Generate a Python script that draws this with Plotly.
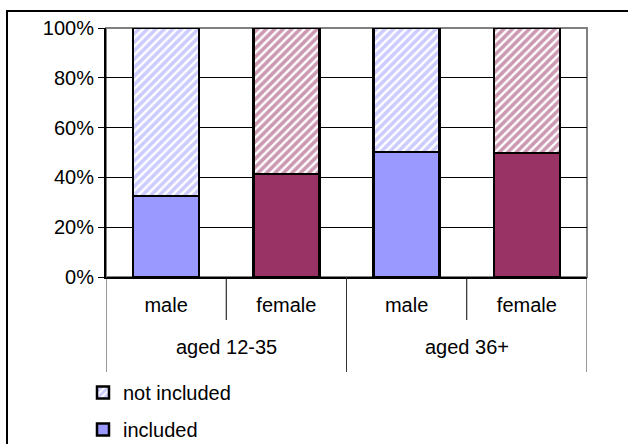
import plotly.graph_objects as go

age_groups = ["aged 12-35", "aged 36+"]
group_members = [[0, 1], [2, 3]]
sexes = ["male", "female", "male", "female"]
included = [32.6, 41.3, 50.3, 49.9]
not_included = [67.4, 58.7, 49.7, 50.1]
bar_colors = ["#9999FF", "#993366", "#9999FF", "#993366"]
y_ticks = [0, 20, 40, 60, 80, 100]
y_tick_text = ["0%", "20%", "40%", "60%", "80%", "100%"]

W, H = 628, 444
L, R, T, B = 106, 41, 28, 167
pw, ph = W - L - R, H - T - B

def px_x(p):
    return (p - L) / pw

def px_y(p):
    return (H - B - p) / ph

FONT = "Liberation Sans, Arial, sans-serif"
xpos = list(range(len(sexes)))

fig = go.Figure()
fig.add_trace(go.Bar(
    x=xpos, y=included, name="included",
    marker=dict(color=bar_colors, line=dict(color="black", width=2.5)),
    legend="legend2",
))
fig.add_trace(go.Bar(
    x=xpos, y=not_included, name="not included",
    marker=dict(color="white", line=dict(color="black", width=2.5),
                pattern=dict(shape="/", fgcolor=bar_colors, bgcolor="white",
                             size=6, solidity=0.6, fillmode="overlay")),
    legend="legend",
))

shapes = [
    dict(type="rect", xref="paper", yref="paper", x0=0, x1=1, y0=0, y1=1,
         line=dict(color="#808080", width=2), layer="below"),
    dict(type="rect", xref="paper", yref="paper",
         x0=px_x(7), x1=px_x(640), y0=px_y(456), y1=px_y(11),
         line=dict(color="black", width=2)),
]
for members in group_members:
    left_edge = members[0] - 0.5
    right_edge = members[-1] + 0.5
    for xe in (left_edge, right_edge):
        shapes.append(dict(type="line", xref="x", yref="paper",
                           x0=xe, x1=xe, y0=0, y1=px_y(372),
                           line=dict(color="#333333", width=1)))
    for m in members[:-1]:
        shapes.append(dict(type="line", xref="x", yref="paper",
                           x0=m + 0.5, x1=m + 0.5, y0=0, y1=px_y(320),
                           line=dict(color="black", width=1)))

annotations = []
for name, members in zip(age_groups, group_members):
    annotations.append(dict(text=name, xref="x", yref="paper",
                            x=sum(members) / len(members), y=px_y(347),
                            showarrow=False, font=dict(size=20),
                            xanchor="center", yanchor="middle"))

fig.update_layout(
    width=W, height=H,
    margin=dict(l=L, r=R, t=T, b=B, autoexpand=False),
    paper_bgcolor="white", plot_bgcolor="white",
    barmode="stack", bargap=0.45,
    font=dict(family=FONT, size=20, color="black"),
    shapes=shapes, annotations=annotations,
    legend=dict(x=px_x(83), y=px_y(373), xanchor="left", yanchor="top",
                bgcolor="rgba(0,0,0,0)", font=dict(size=20, family=FONT),
                itemwidth=30),
    legend2=dict(x=px_x(83), y=px_y(410), xanchor="left", yanchor="top",
                 bgcolor="rgba(0,0,0,0)", font=dict(size=20, family=FONT),
                 itemwidth=30),
    showlegend=True,
)
fig.update_yaxes(range=[0, 100], tickvals=y_ticks, ticktext=y_tick_text,
                 showgrid=True, gridcolor="black", gridwidth=1,
                 showline=True, linecolor="black", linewidth=2,
                 ticks="outside", ticklen=6, tickcolor="black",
                 tickfont=dict(size=20), zeroline=False, automargin=False)
fig.update_xaxes(range=[-0.5, len(sexes) - 0.5], tickvals=xpos, ticktext=sexes,
                 showline=True, linecolor="black", linewidth=2,
                 tickfont=dict(size=20), ticks="", showgrid=False,
                 ticklabelstandoff=9, automargin=False, zeroline=False)

fig.write_html("out.html", config={"displayModeBar": False},
               post_script="document.body.style.margin='0';document.body.style.overflow='hidden';")
